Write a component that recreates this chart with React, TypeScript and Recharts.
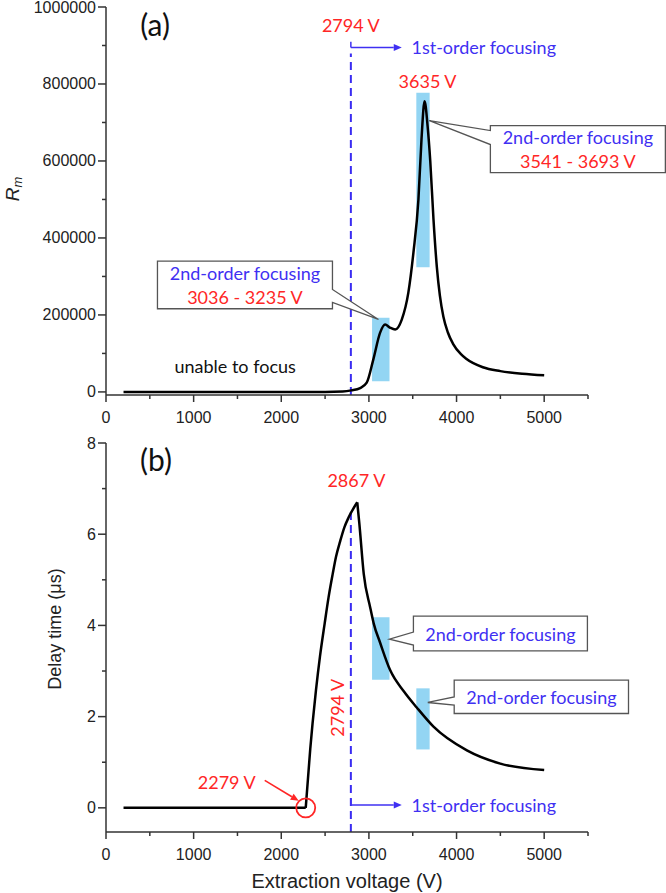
import React from 'react';
import { LineChart, Line, XAxis, YAxis, ReferenceArea, ReferenceLine, ReferenceDot } from 'recharts';

// ---------- data ----------
const voltA = [200, 1000, 2000, 2500, 2700, 2800, 2900, 2975, 3050, 3128, 3185, 3240, 3300, 3375, 3450, 3508, 3565, 3600, 3635, 3670, 3700, 3737, 3775, 3810, 3850, 3900, 3960, 4050, 4110, 4300, 4500, 4750, 5000];
const rmA = [0, 0, 0, 0, 1000, 4000, 10000, 24000, 84000, 154000, 175000, 167000, 162000, 188000, 258000, 362000, 500000, 656000, 755000, 690000, 600000, 448000, 325000, 250000, 195000, 155000, 125000, 98000, 86000, 64000, 54000, 47000, 43000];

const voltB = [200, 2279, 2331, 2357, 2396, 2441, 2495, 2540, 2587, 2624, 2674, 2720, 2769, 2867, 2891, 2941, 3014, 3055, 3128, 3242, 3400, 3546, 3737, 4118, 4499, 5000];
const delayB = [0, 0, 1.3, 1.85, 2.58, 3.31, 4.04, 4.62, 5.13, 5.5, 5.86, 6.15, 6.37, 6.7, 6.23, 5.13, 4.4, 4.04, 3.62, 3.02, 2.55, 2.2, 1.78, 1.26, 0.97, 0.83];

const xTicks = [0, 500, 1000, 1500, 2000, 2500, 3000, 3500, 4000, 4500, 5000, 5500];
const yTicksA = [0, 100000, 200000, 300000, 400000, 500000, 600000, 700000, 800000, 900000, 1000000];
const yTicksB = [0, 1, 2, 3, 4, 5, 6, 7, 8];

const firstOrderV = 2794;
const focus1 = [3036, 3235];
const focus2 = [3541, 3693];
const rectA1Y = [28000, 193000];
const rectA2Y = [324000, 777000];
const rectB1Y = [2.81, 4.18];
const rectB2Y = [1.28, 2.62];
const peakA = 3635;
const onsetB = 2279;
const peakB = 2867;

const dataA = voltA.map((v, i) => ({ v, rm: rmA[i] }));
const onsetIdx = voltB.indexOf(onsetB);
const peakIdx = voltB.indexOf(peakB);
const dataB = voltB.map((v, i) => ({
  v,
  flat: i <= onsetIdx ? delayB[i] : null,
  rise: i >= onsetIdx && i <= peakIdx ? delayB[i] : null,
  fall: i >= peakIdx ? delayB[i] : null,
}));

// ---------- styles ----------
const AXIS = '#333';
const TICKFONT = "'Liberation Sans', Arial, sans-serif";
const ANNFONT = "Lato, 'Open Sans', sans-serif";
const RED = '#ff2626';
const BLUE = '#3f30f2';
const DASH = '#3a2cf2';
const FILL = '#93d5f3';
const BOXSTROKE = '#555';
const TICKSIZE = 16;
const ANNSIZE = 18;

const XTick = (props: any) => {
  const { x, y, payload } = props;
  const major = payload.value % 1000 === 0 && payload.value <= 5000;
  return (
    <g>
      <line x1={x} x2={x} y1={y} y2={y + (major ? 7 : 4)} stroke={AXIS} strokeWidth={1.5} />
      {major && (
        <text x={x} y={y + 22} textAnchor="middle" dominantBaseline="central" fontSize={TICKSIZE} fill="#222" fontFamily={TICKFONT}>
          {payload.value}
        </text>
      )}
    </g>
  );
};

const makeYTick = (majorStep: number) => (props: any) => {
  const { x, y, payload } = props;
  const major = Math.abs(payload.value % majorStep) < 1e-9;
  return (
    <g>
      <line x1={x - (major ? 8 : 4)} x2={x} y1={y} y2={y} stroke={AXIS} strokeWidth={1.5} />
      {major && (
        <text x={x - 10} y={y} textAnchor="end" dominantBaseline="central" fontSize={TICKSIZE} fill="#222" fontFamily={TICKFONT}>
          {payload.value}
        </text>
      )}
    </g>
  );
};

const arrowPx = (x1: number, y1: number, x2: number, y2: number, color: string, w = 1.5) => {
  const ang = Math.atan2(y2 - y1, x2 - x1);
  const L = 8, W = 3.5;
  const bx = x2 - L * Math.cos(ang), by = y2 - L * Math.sin(ang);
  const px = -Math.sin(ang) * W, py = Math.cos(ang) * W;
  return (
    <g>
      <line x1={x1} y1={y1} x2={bx} y2={by} stroke={color} strokeWidth={w} />
      <polygon points={`${x2},${y2} ${bx + px},${by + py} ${bx - px},${by - py}`} fill={color} />
    </g>
  );
};

const arrowShape = (color: string) => (p: any) => arrowPx(p.x1, p.y1, p.x2, p.y2, color);
const solidShape = (color: string) => (p: any) => <line x1={p.x1} y1={p.y1} x2={p.x2} y2={p.y2} stroke={color} strokeWidth={1.5} />;

const txt = (label: string, color: string, size: number, anchor: 'start' | 'middle' | 'end' = 'middle', rotate = 0) => (p: any) => (
  <text
    x={p.cx}
    y={p.cy}
    textAnchor={anchor}
    dominantBaseline="central"
    fontSize={size}
    fill={color}
    fontFamily={ANNFONT}
    transform={rotate ? `rotate(${rotate} ${p.cx} ${p.cy})` : undefined}
  >
    {label}
  </text>
);

// callout: box relative to tip, pointer base on 'left' or 'right' edge
const callout = (
  box: [number, number, number, number],
  side: 'left' | 'right',
  pb: [number, number],
  lines: { t: string; c: string; dy: number }[]
) => (p: any) => {
  const tx = p.cx, ty = p.cy;
  const [x0, y0, x1, y1] = [tx + box[0], ty + box[1], tx + box[2], ty + box[3]];
  const b1 = ty + pb[0], b2 = ty + pb[1];
  const d =
    side === 'left'
      ? `M${x0},${y0} H${x1} V${y1} H${x0} V${b2} L${tx},${ty} L${x0},${b1} Z`
      : `M${x0},${y0} H${x1} V${b1} L${tx},${ty} L${x1},${b2} V${y1} H${x0} Z`;
  const cxm = (x0 + x1) / 2;
  return (
    <g>
      <path d={d} fill="#fff" stroke={BOXSTROKE} strokeWidth={1.3} />
      {lines.map((l, i) => (
        <text key={i} x={cxm} y={ty + l.dy} textAnchor="middle" dominantBaseline="central" fontSize={ANNSIZE} fill={l.c} fontFamily={ANNFONT}>
          {l.t}
        </text>
      ))}
    </g>
  );
};

const onsetShape = (p: any) => {
  const { cx, cy } = p;
  return (
    <g>
      <circle cx={cx} cy={cy} r={9.5} fill="none" stroke={RED} strokeWidth={1.8} />
      {arrowPx(cx - 41, cy - 27.5, cx - 7, cy - 7, RED, 1.6)}
      <text x={cx - 79} y={cy - 26} textAnchor="middle" dominantBaseline="central" fontSize={ANNSIZE} fill={RED} fontFamily={ANNFONT}>
        {`${onsetB} V`}
      </text>
    </g>
  );
};

const yLabelA = () => {
  const cx = 12, cy = 189;
  return (
    <text transform={`rotate(-90 ${cx} ${cy})`} x={cx} y={cy} textAnchor="middle" dominantBaseline="central" fontFamily={TICKFONT} fontSize={19} fontStyle="italic" fill="#222">
      R<tspan fontSize={13} dy={5}>m</tspan>
    </text>
  );
};

const yLabelB = () => {
  const cx = 55, cy = 209;
  return (
    <text transform={`rotate(-90 ${cx} ${cy})`} x={cx} y={cy} textAnchor="middle" dominantBaseline="central" fontFamily={TICKFONT} fontSize={18} fill="#222">
      Delay time (μs)
    </text>
  );
};

const xLabelB = (p: any) => {
  const vb = p.viewBox || {};
  return (
    <text x={vb.x + vb.width / 2} y={461} textAnchor="middle" dominantBaseline="central" fontFamily={TICKFONT} fontSize={20} fill="#222">
      Extraction voltage (V)
    </text>
  );
};

export default function App() {
  return (
    <div style={{ position: 'absolute', left: 0, top: 0, width: 666, height: 893, background: '#fff' }}>
      <div style={{ position: 'absolute', left: 0, top: 0 }}>
        <LineChart width={666} height={440} data={dataA} margin={{ top: 7, right: 78, bottom: 0, left: 0 }}>
          <XAxis
            dataKey="v"
            type="number"
            domain={[0, 5500]}
            ticks={xTicks}
            interval={0}
            height={45}
            tickSize={0}
            tickMargin={0}
            tickLine={false}
            tick={XTick}
            axisLine={{ stroke: AXIS, strokeWidth: 1.5 }}
          />
          <YAxis
            type="number"
            domain={[-8000, 1000000]}
            ticks={yTicksA}
            interval={0}
            width={106}
            tickSize={0}
            tickMargin={0}
            tickLine={false}
            tick={makeYTick(200000)}
            axisLine={{ stroke: AXIS, strokeWidth: 1.5 }}
            label={{ content: yLabelA }}
          />
          <ReferenceArea x1={focus1[0]} x2={focus1[1]} y1={rectA1Y[0]} y2={rectA1Y[1]} fill={FILL} fillOpacity={1} stroke="none" ifOverflow="visible" />
          <ReferenceArea x1={focus2[0]} x2={focus2[1]} y1={rectA2Y[0]} y2={rectA2Y[1]} fill={FILL} fillOpacity={1} stroke="none" ifOverflow="visible" />
          <ReferenceLine segment={[{ x: firstOrderV, y: -8000 }, { x: firstOrderV, y: 879000 }]} stroke={DASH} strokeWidth={2} strokeDasharray="8 5" ifOverflow="visible" />
          <ReferenceLine segment={[{ x: firstOrderV, y: 910000 }, { x: firstOrderV, y: 894800 }]} shape={solidShape(BLUE)} ifOverflow="visible" />
          <ReferenceLine segment={[{ x: firstOrderV, y: 894800 }, { x: 3375, y: 894800 }]} shape={arrowShape(BLUE)} ifOverflow="visible" />
          <Line dataKey="rm" type="monotone" stroke="#000" strokeWidth={2.5} dot={false} isAnimationActive={false} />
          <ReferenceDot x={560} y={957000} r={0} ifOverflow="visible" shape={txt('(a)', '#111', 30)} />
          <ReferenceDot x={firstOrderV} y={954500} r={0} ifOverflow="visible" shape={txt(`${firstOrderV} V`, RED, ANNSIZE)} />
          <ReferenceDot x={3486} y={894800} r={0} ifOverflow="visible" shape={txt('1st-order focusing', BLUE, ANNSIZE, 'start')} />
          <ReferenceDot x={3669} y={806500} r={0} ifOverflow="visible" shape={txt(`${peakA} V`, RED, ANNSIZE)} />
          <ReferenceDot x={1474} y={66200} r={0} ifOverflow="visible" shape={txt('unable to focus', '#111', ANNSIZE)} />
          <ReferenceDot
            x={3690}
            y={705000}
            r={0}
            ifOverflow="visible"
            shape={callout([61, 5, 236, 52], 'left', [10, 24], [
              { t: '2nd-order focusing', c: BLUE, dy: 16.5 },
              { t: `${focus2[0]} - ${focus2[1]} V`, c: RED, dy: 40.5 },
            ])}
          />
          <ReferenceDot
            x={3109}
            y={188300}
            r={0}
            ifOverflow="visible"
            shape={callout([-221, -58.3, -46, -10.7], 'right', [-30, -17], [
              { t: '2nd-order focusing', c: BLUE, dy: -46 },
              { t: `${focus1[0]} - ${focus1[1]} V`, c: RED, dy: -22 },
            ])}
          />
        </LineChart>
      </div>
      <div style={{ position: 'absolute', left: 0, top: 420 }}>
        <LineChart width={666} height={473} data={dataB} margin={{ top: 23, right: 78, bottom: 0, left: 0 }}>
          <XAxis
            dataKey="v"
            type="number"
            domain={[0, 5500]}
            ticks={xTicks}
            interval={0}
            height={61}
            tickSize={0}
            tickMargin={0}
            tickLine={false}
            tick={XTick}
            axisLine={{ stroke: AXIS, strokeWidth: 1.5 }}
            label={{ content: xLabelB }}
          />
          <YAxis
            type="number"
            domain={[-0.53, 8]}
            ticks={yTicksB}
            interval={0}
            width={106}
            tickSize={0}
            tickMargin={0}
            tickLine={false}
            tick={makeYTick(2)}
            axisLine={{ stroke: AXIS, strokeWidth: 1.5 }}
            label={{ content: yLabelB }}
          />
          <ReferenceArea x1={focus1[0]} x2={focus1[1]} y1={rectB1Y[0]} y2={rectB1Y[1]} fill={FILL} fillOpacity={1} stroke="none" ifOverflow="visible" />
          <ReferenceArea x1={focus2[0]} x2={focus2[1]} y1={rectB2Y[0]} y2={rectB2Y[1]} fill={FILL} fillOpacity={1} stroke="none" ifOverflow="visible" />
          <ReferenceLine segment={[{ x: firstOrderV, y: -0.53 }, { x: firstOrderV, y: 6.57 }]} stroke={DASH} strokeWidth={2} strokeDasharray="8 5" ifOverflow="visible" />
          <ReferenceLine segment={[{ x: firstOrderV, y: 0.2 }, { x: firstOrderV, y: 0.06 }]} shape={solidShape(BLUE)} ifOverflow="visible" />
          <ReferenceLine segment={[{ x: firstOrderV, y: 0.06 }, { x: 3375, y: 0.06 }]} shape={arrowShape(BLUE)} ifOverflow="visible" />
          <Line dataKey="flat" type="linear" stroke="#000" strokeWidth={2.5} dot={false} connectNulls={false} isAnimationActive={false} />
          <Line dataKey="rise" type="monotone" stroke="#000" strokeWidth={2.5} dot={false} connectNulls={false} isAnimationActive={false} />
          <Line dataKey="fall" type="monotone" stroke="#000" strokeWidth={2.5} dot={false} connectNulls={false} isAnimationActive={false} />
          <ReferenceDot x={571} y={7.64} r={0} ifOverflow="visible" shape={txt('(b)', '#111', 30)} />
          <ReferenceDot x={peakB - 10} y={7.18} r={0} ifOverflow="visible" shape={txt(`${peakB} V`, RED, ANNSIZE)} />
          <ReferenceDot x={2640} y={2.195} r={0} ifOverflow="visible" shape={txt(`${firstOrderV} V`, RED, ANNSIZE, 'middle', -90)} />
          <ReferenceDot x={3486} y={0.06} r={0} ifOverflow="visible" shape={txt('1st-order focusing', BLUE, ANNSIZE, 'start')} />
          <ReferenceDot x={onsetB} y={0} r={0} ifOverflow="visible" shape={onsetShape} />
          <ReferenceDot
            x={3234}
            y={3.7}
            r={0}
            ifOverflow="visible"
            shape={callout([24, -23, 198, 11.7], 'left', [-7, 6], [{ t: '2nd-order focusing', c: BLUE, dy: -4.7 }])}
          />
          <ReferenceDot
            x={3672}
            y={2.31}
            r={0}
            ifOverflow="visible"
            shape={callout([26.4, -22.3, 200.7, 11], 'left', [-5.6, 2.7], [{ t: '2nd-order focusing', c: BLUE, dy: -5 }])}
          />
        </LineChart>
      </div>
    </div>
  );
}
